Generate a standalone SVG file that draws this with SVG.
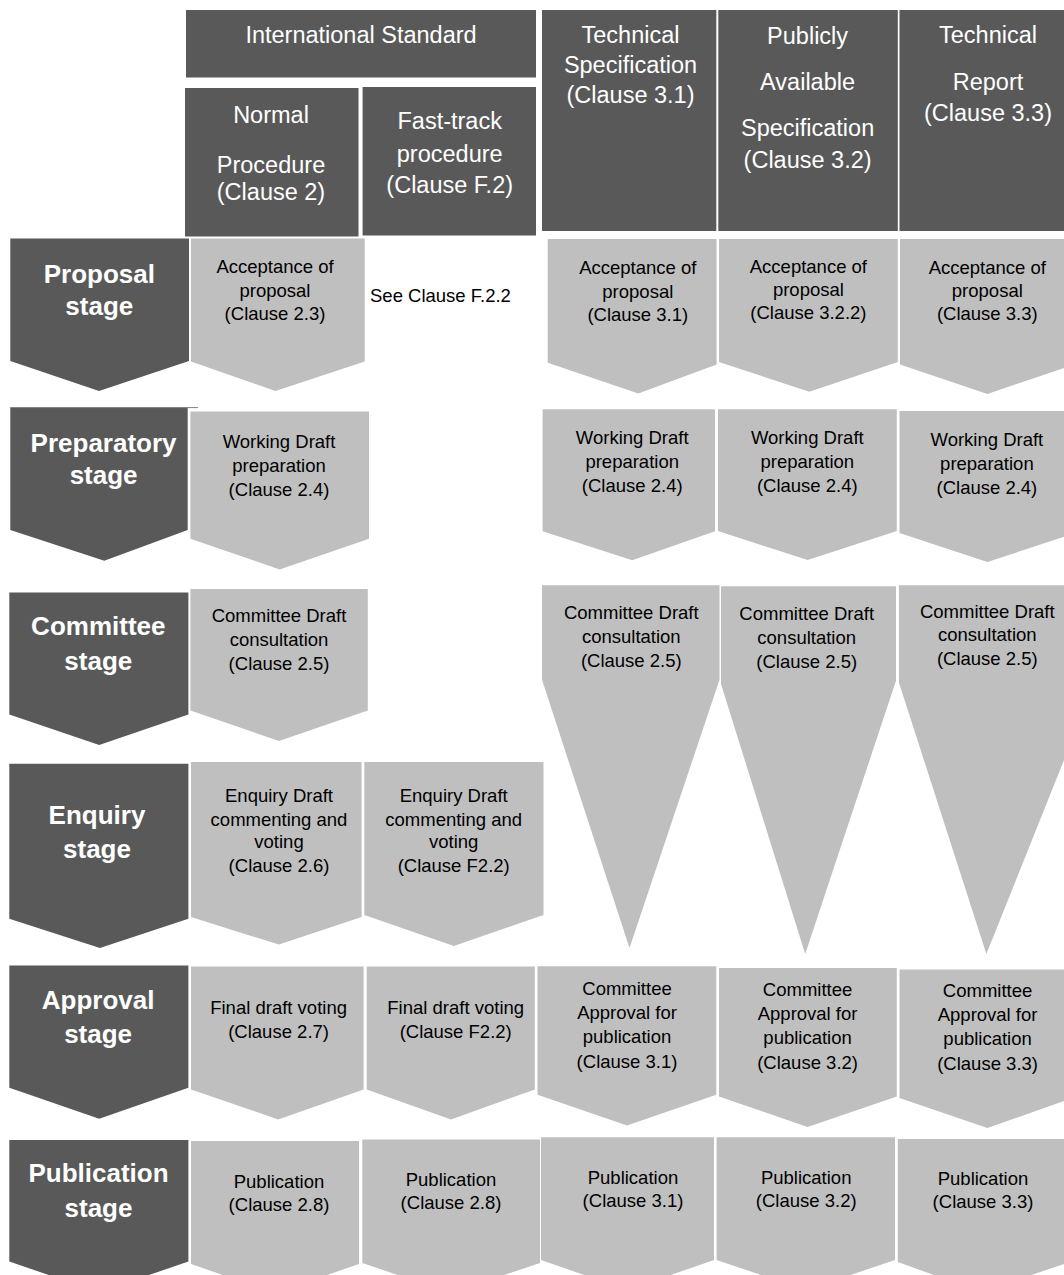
<svg xmlns="http://www.w3.org/2000/svg" width="1064" height="1275" viewBox="0 0 1064 1275">
<style>
.dk{fill:#595959}
.lt{fill:#BFBFBF}
.h{font-family:"Liberation Sans",Arial,sans-serif;font-size:23.5px;fill:#fff;text-anchor:middle}
.s{font-family:"Liberation Sans",Arial,sans-serif;font-size:26px;font-weight:bold;fill:#fff;text-anchor:middle}
.n{font-family:"Liberation Sans",Arial,sans-serif;font-size:18.5px;fill:#000;text-anchor:middle}
</style>
<rect width="1064" height="1275" fill="#fff"/>
<g id="headers">
<g id="hdr-is"><rect class="dk" x="186" y="10" width="350" height="67.5"/><text class="h" x="361" y="43">International Standard</text></g>
<g id="hdr-normal"><rect class="dk" x="185" y="88" width="173.5" height="148.5"/><text class="h" x="271" y="123">Normal</text><text class="h" x="271" y="173">Procedure</text><text class="h" x="271" y="200">(Clause 2)</text></g>
<g id="hdr-fast"><rect class="dk" x="362.6" y="87" width="173.4" height="148.5"/><text class="h" x="449.7" y="129">Fast-track</text><text class="h" x="449.7" y="162">procedure</text><text class="h" x="449.7" y="193">(Clause F.2)</text></g>
<g id="hdr-ts"><rect class="dk" x="542" y="10" width="174.3" height="221"/><text class="h" x="630.5" y="42.6">Technical</text><text class="h" x="630.5" y="73.2">Specification</text><text class="h" x="630.5" y="103">(Clause 3.1)</text></g>
<g id="hdr-pas"><rect class="dk" x="718.3" y="10" width="179.5" height="221"/><text class="h" x="807.6" y="43.6">Publicly</text><text class="h" x="807.6" y="90">Available</text><text class="h" x="807.6" y="136">Specification</text><text class="h" x="807.6" y="167.6">(Clause 3.2)</text></g>
<g id="hdr-tr"><rect class="dk" x="899.5" y="10" width="164.5" height="221"/><text class="h" x="988" y="42.6">Technical</text><text class="h" x="988" y="90">Report</text><text class="h" x="988" y="121">(Clause 3.3)</text></g>
</g>
<g id="stages">
<g id="stage-proposal"><polygon class="dk" points="10.3,238.6 189,238.6 189,361 99,391 10.3,361"/><text class="s" x="99.3" y="283.4">Proposal</text><text class="s" x="99.3" y="315.4">stage</text></g>
<g id="stage-preparatory"><polygon class="dk" points="10.3,407.6 187.7,407.6 187.7,530 104.3,560.8 10.3,530"/><line x1="10.3" y1="407.6" x2="198" y2="407.6" stroke="#7f7f7f" stroke-width="1"/><text class="s" x="103.6" y="451.6">Preparatory</text><text class="s" x="103.6" y="484.4">stage</text></g>
<g id="stage-committee"><polygon class="dk" points="9.3,592.4 188.4,592.4 188.4,714.6 99.2,745 9.3,714.6"/><text class="s" x="98.3" y="635.4">Committee</text><text class="s" x="98.3" y="669.9">stage</text></g>
<g id="stage-enquiry"><polygon class="dk" points="9.3,763.8 188.4,763.8 188.4,918.7 99.9,948 9.3,918.7"/><text class="s" x="97" y="824">Enquiry</text><text class="s" x="97" y="857.8">stage</text></g>
<g id="stage-approval"><polygon class="dk" points="9.3,965.5 188.4,965.5 188.4,1087.7 99.2,1118.7 9.3,1087.7"/><text class="s" x="98.1" y="1008.5">Approval</text><text class="s" x="98.1" y="1043">stage</text></g>
<g id="stage-publication"><polygon class="dk" points="9.3,1140 188.4,1140 188.4,1261.6 98.9,1292 9.3,1261.6"/><text class="s" x="98.5" y="1182.4">Publication</text><text class="s" x="98.5" y="1216.9">stage</text></g>
</g>
<g id="steps">
<g id="proposal-is"><polygon class="lt" points="191,238.6 364.7,238.6 364.7,361.5 275.5,391 191,361.5"/><text class="n" x="275" y="273">Acceptance of</text><text class="n" x="275" y="297">proposal</text><text class="n" x="275" y="320">(Clause 2.3)</text></g>
<g id="proposal-ft"><text class="n" x="370" y="302" style="text-anchor:start">See Clause F.2.2</text></g>
<g id="proposal-ts"><polygon class="lt" points="547.7,239 716.6,239 716.6,364.5 638.3,393.5 547.7,362.8"/><text class="n" x="637.8" y="274.3">Acceptance of</text><text class="n" x="637.8" y="298">proposal</text><text class="n" x="637.8" y="321">(Clause 3.1)</text></g>
<g id="proposal-pas"><polygon class="lt" points="719,239 897.8,239 897.8,362 809.3,391.8 719,362"/><text class="n" x="808.4" y="272.6">Acceptance of</text><text class="n" x="808.4" y="296">proposal</text><text class="n" x="808.4" y="319">(Clause 3.2.2)</text></g>
<g id="proposal-tr"><polygon class="lt" points="900,239 1064,239 1064,368 987.4,394 900,364.5"/><text class="n" x="987.3" y="273.6">Acceptance of</text><text class="n" x="987.3" y="297">proposal</text><text class="n" x="987.3" y="320">(Clause 3.3)</text></g>

<g id="prep-is"><polygon class="lt" points="190.4,411.4 369,411.4 369,538.8 279.6,569.4 190.4,538.8"/><text class="n" x="279" y="447.5">Working Draft</text><text class="n" x="279" y="471.6">preparation</text><text class="n" x="279" y="496.4">(Clause 2.4)</text></g>
<g id="prep-ts"><polygon class="lt" points="542.6,409.3 715,409.3 715,531.2 632.2,560.2 542.6,531.2"/><text class="n" x="632.2" y="444.4">Working Draft</text><text class="n" x="632.2" y="468.2">preparation</text><text class="n" x="632.2" y="492">(Clause 2.4)</text></g>
<g id="prep-pas"><polygon class="lt" points="718,409.3 896.8,409.3 896.8,531 807.6,560 718,531"/><text class="n" x="807.3" y="444.4">Working Draft</text><text class="n" x="807.3" y="468.2">preparation</text><text class="n" x="807.3" y="492">(Clause 2.4)</text></g>
<g id="prep-tr"><polygon class="lt" points="899.5,411 1064,411 1064,536.7 987.4,562 899.5,533"/><text class="n" x="986.9" y="446">Working Draft</text><text class="n" x="986.9" y="470">preparation</text><text class="n" x="986.9" y="494">(Clause 2.4)</text></g>

<g id="committee-is"><polygon class="lt" points="190.4,589 367.8,589 367.8,710.5 279,741 190.4,710.5"/><text class="n" x="279" y="621.7">Committee Draft</text><text class="n" x="279" y="646.4">consultation</text><text class="n" x="279" y="670">(Clause 2.5)</text></g>
<g id="committee-ts"><polygon class="lt" points="542,585.3 719.5,585.3 719.5,679.7 629.5,948 542,679.7"/><text class="n" x="631.3" y="619.4">Committee Draft</text><text class="n" x="631.3" y="642.5">consultation</text><text class="n" x="631.3" y="667">(Clause 2.5)</text></g>
<g id="committee-pas"><polygon class="lt" points="721,586.3 896,586.3 896,680.7 805.2,954 721,684"/><text class="n" x="806.7" y="620.4">Committee Draft</text><text class="n" x="806.7" y="643.5">consultation</text><text class="n" x="806.7" y="668">(Clause 2.5)</text></g>
<g id="committee-tr"><polygon class="lt" points="898.9,585.3 1064,585.3 1064,760 986.4,954 898.9,682.4"/><text class="n" x="987.3" y="617.7">Committee Draft</text><text class="n" x="987.3" y="641">consultation</text><text class="n" x="987.3" y="665">(Clause 2.5)</text></g>

<g id="enquiry-is"><polygon class="lt" points="191,762 361.6,762 361.6,917 279,944.6 191,917"/><text class="n" x="279" y="801.7">Enquiry Draft</text><text class="n" x="279" y="825.8">commenting and</text><text class="n" x="279" y="848">voting</text><text class="n" x="279" y="872">(Clause 2.6)</text></g>
<g id="enquiry-ft"><polygon class="lt" points="364.3,762 543.5,762 543.5,915 453.9,946 364.3,915"/><text class="n" x="453.7" y="801.7">Enquiry Draft</text><text class="n" x="453.7" y="825.8">commenting and</text><text class="n" x="453.7" y="848">voting</text><text class="n" x="453.7" y="872">(Clause F2.2)</text></g>

<g id="approval-is"><polygon class="lt" points="191,966.5 363.6,966.5 363.6,1089.5 278.2,1119.4 191,1089.5"/><text class="n" x="278.6" y="1013.7">Final draft voting</text><text class="n" x="278.6" y="1037.8">(Clause 2.7)</text></g>
<g id="approval-ft"><polygon class="lt" points="366.7,966.5 534.8,966.5 534.8,1089.5 451,1119.4 366.7,1089.5"/><text class="n" x="455.7" y="1013.7">Final draft voting</text><text class="n" x="455.7" y="1037.8">(Clause F2.2)</text></g>
<g id="approval-ts"><polygon class="lt" points="537.5,966.3 716.3,966.3 716.3,1094.8 627,1125.4 537.5,1094.8"/><text class="n" x="627" y="995">Committee</text><text class="n" x="627" y="1018.8">Approval for</text><text class="n" x="627" y="1042.6">publication</text><text class="n" x="627" y="1067.5">(Clause 3.1)</text></g>
<g id="approval-pas"><polygon class="lt" points="719,968 896.8,968 896.8,1096.5 807.6,1127 719,1096.5"/><text class="n" x="807.6" y="996">Committee</text><text class="n" x="807.6" y="1020">Approval for</text><text class="n" x="807.6" y="1044">publication</text><text class="n" x="807.6" y="1068.7">(Clause 3.2)</text></g>
<g id="approval-tr"><polygon class="lt" points="899.5,969.4 1064,969.4 1064,1101 987.4,1128 899.5,1098"/><text class="n" x="987.6" y="997">Committee</text><text class="n" x="987.6" y="1021">Approval for</text><text class="n" x="987.6" y="1045">publication</text><text class="n" x="987.6" y="1070">(Clause 3.3)</text></g>

<g id="pub-is"><polygon class="lt" points="191,1141 359,1141 359,1264 275,1293 191,1264"/><text class="n" x="279" y="1187.6">Publication</text><text class="n" x="279" y="1211">(Clause 2.8)</text></g>
<g id="pub-ft"><polygon class="lt" points="362.3,1139.4 540,1139.4 540,1263 451,1293 362.3,1263"/><text class="n" x="451" y="1186">Publication</text><text class="n" x="451" y="1209">(Clause 2.8)</text></g>
<g id="pub-ts"><polygon class="lt" points="541,1137.3 714,1137.3 714,1260 627.5,1290 541,1260"/><text class="n" x="633" y="1184.3">Publication</text><text class="n" x="633" y="1207">(Clause 3.1)</text></g>
<g id="pub-pas"><polygon class="lt" points="716.6,1137.3 895,1137.3 895,1260 805.8,1290 716.6,1260"/><text class="n" x="806.2" y="1184.3">Publication</text><text class="n" x="806.2" y="1207">(Clause 3.2)</text></g>
<g id="pub-tr"><polygon class="lt" points="897.8,1139 1064,1139 1064,1264 981,1292 897.8,1262"/><text class="n" x="983" y="1185">Publication</text><text class="n" x="983" y="1208">(Clause 3.3)</text></g>
</g>
<g id="connectors"/>
</svg>
